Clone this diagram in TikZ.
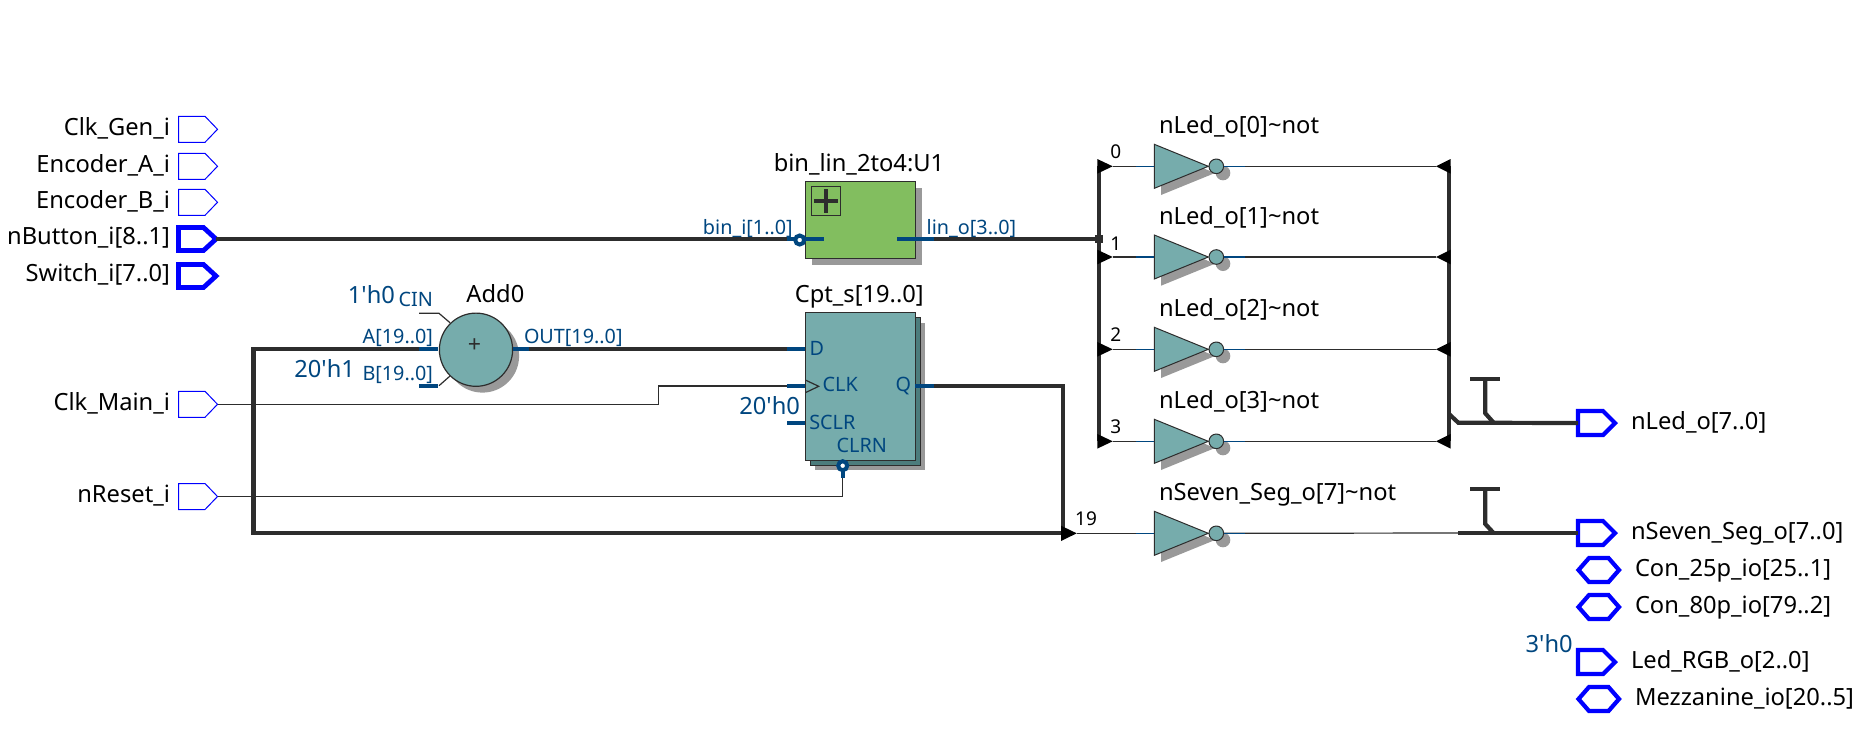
\documentclass[tikz,border=0pt]{standalone}
\usepackage{fontspec}
\setmainfont{Noto Sans}
\usepackage{xcolor}
\usetikzlibrary{calc}
\definecolor{wirek}{HTML}{2D2D2D}
\definecolor{pinblue}{HTML}{00467F}
\definecolor{portblue}{HTML}{0000FF}
\definecolor{tealfill}{HTML}{76ACAC}
\definecolor{tealdark}{HTML}{4C7C7C}
\definecolor{greenfill}{HTML}{82BE5F}
\definecolor{dropgray}{HTML}{999999}

\begin{document}
\begin{tikzpicture}[
    x=.5pt,y=-.5pt,
    every node/.style={inner sep=0pt,outer sep=0pt},
    wire/.style={line width=.6pt,wirek},
    bus/.style={line width=2.1pt,wirek},
    stub/.style={line width=2.1pt,pinblue},
    fine/.style={line width=.6pt,pinblue},
    pthin/.style={line width=.5pt,portblue},
    pthick/.style={line width=2.1pt,portblue},
    lab/.style={font=\fontsize{11.85}{13}\selectfont,text=black,yshift=-.5pt},
    pin/.style={font=\fontsize{9.9}{11}\selectfont,text=pinblue,yshift=-.5pt},
    const/.style={font=\fontsize{11.85}{13}\selectfont,text=pinblue,yshift=-.5pt},
    bit/.style={font=\fontsize{9.5}{11}\selectfont,text=black},
    block/.style={draw=wirek,line width=.6pt,minimum width=55pt},
    bub/.style={circle,draw=pinblue,line width=2pt,fill=white,minimum size=4.5pt},
  ]
  \useasboundingbox (0,0) rectangle (1858,752);

  % -- input ports --
  \foreach \k/\y/\t in {clkgen/129.3/{Clk\_Gen\_i},enca/166.3/{Encoder\_A\_i},encb/202.3/{Encoder\_B\_i},clkmain/404.3/{Clk\_Main\_i},nrst/496.5/{nReset\_i}}{%
    \draw[pthin] (178.5,\y-13) -- ++(26.5,0) -- ++(12.5,13) coordinate (P\k) -- ++(-12.5,13) -- ++(-26.5,0) -- cycle;
    \node[lab,anchor=base east] (T\k) at (170,\y+4.7) {\t};}
  \foreach \k/\y/\t in {btn/239/{nButton\_i[8..1]},sw/276/{Switch\_i[7..0]}}{%
    \draw[pthick,line width=2.4pt] (178.5,\y-11.5) -- ++(25,0) -- ++(12.5,11.5) coordinate (P\k) -- ++(-12.5,11.5) -- ++(-25,0) -- cycle;
    \node[lab,anchor=base east] (T\k) at (170,\y+4.7) {\t};}

  % -- output and bidirectional ports --
  \foreach \k/\y/\t in {led/423/{nLed\_o[7..0]},seg/533/{nSeven\_Seg\_o[7..0]},rgb/662/{Led\_RGB\_o[2..0]}}{%
    \draw[pthick] (1578,\y-12) -- ++(25,0) -- ++(12,12) -- ++(-12,12) -- ++(-25,0) -- cycle;
    \coordinate (P\k) at (1578,\y);
    \node[lab,anchor=base west] (T\k) at (1631,\y+5.5) {\t};}
  \foreach \k/\y/\t in {cona/570/{Con\_25p\_io[25..1]},conb/607/{Con\_80p\_io[79..2]},mez/699/{Mezzanine\_io[20..5]}}{%
    \draw[pthick] (1578.5,\y) -- (1589,\y-12) -- (1608.5,\y-12) -- (1619,\y) -- (1608.5,\y+12) -- (1589,\y+12) -- cycle;
    \node[lab,anchor=base west] (T\k) at (1635,\y+5.5) {\t};}
  \node[const,anchor=base east] (crgb) at (1572.7,651) {3\textquotesingle h0};

  % -- bin_lin block --
  \fill[dropgray] (812,188.4) rectangle (922,265);
  \node[block,fill=greenfill,minimum height=38.3pt] (binlin) at (860.3,220) {};
  \node[lab,anchor=base] (Tbinlin) at (859,170) {bin\_lin\_2to4:U1};
  \draw[line width=.6pt,wirek] (811.3,186.3) rectangle (840.7,215.3);
  \draw[line width=2.2pt,wirek] (814,200.7) -- (838,200.7);
  \draw[line width=2.2pt,wirek] (826,189) -- (826,212.5);
  \node[pin,anchor=base east] (Tbini) at (792.7,233.3) {bin\_i[1..0]};
  \node[pin,anchor=base west] (Tlino) at (926.7,233.3) {lin\_o[3..0]};

  % -- counter register --
  \fill[dropgray] (815.3,322.7) rectangle (925.3,470.3);
  \fill[tealdark] (810.3,317.7) rectangle (920.3,465.3);
  \draw[wirek,line width=.6pt] (810.3,317.7) rectangle (920.3,465.3);
  \node[block,fill=tealfill,minimum height=73.8pt] (cpt) at (860.3,386.5) {};
  \node[lab,anchor=base] (Tcpt) at (859.3,301.7) {Cpt\_s[19..0]};
  \draw[wire] (805.3,380) -- (818.7,386.3) -- (805.3,392.7);
  \node[pin,anchor=base west] (Dp) at (809.5,354) {D};
  \node[pin,anchor=base west] (Cp) at (822.7,390.7) {CLK};
  \node[pin,anchor=base west] (Sp) at (809.3,428.3) {SCLR};
  \node[pin,anchor=base west] (Rp) at (836.7,451) {CLRN};
  \node[pin,anchor=base east] (Qp) at (911,390.7) {Q};
  \node[const,anchor=base east] (csclr) at (800,413.3) {20\textquotesingle h0};

  % -- adder --
  \fill[dropgray] (482.5,356) circle[radius=36.6];
  \draw[wire] (419,313.3) -- (439,313.3) -- (450,322.7);
  \draw[wire] (439,385.7) -- (450,376);
  \node[circle,draw=wirek,line width=.6pt,fill=tealfill,minimum size=36.6pt] (add) at (476,349.7) {};
  \node[font=\fontsize{11.6}{13}\selectfont,text=wirek] (addp) at (474.5,346) {+};
  \node[lab,anchor=base] (Tadd) at (495.4,301.7) {Add0};
  \node[pin,anchor=base east] (Ain) at (433,342.7) {A[19..0]};
  \node[pin,anchor=base east] (Bin) at (433,379.3) {B[19..0]};
  \node[pin,anchor=base east] (Cin) at (433,305) {CIN};
  \node[pin,anchor=base west] (Oout) at (524,342.7) {OUT[19..0]};
  \node[const,anchor=base east] (ccin) at (395,302.7) {1\textquotesingle h0};
  \node[const,anchor=base east] (cb) at (355,376.7) {20\textquotesingle h1};

  % -- the nets --
  \coordinate (busl) at (1099,239);
  \draw[bus] (Pbtn) -- (787,239);
  \draw[bus] (934,239) -- (busl);
  \draw[bus] (529,349) -- (787,349);
  \draw[bus] (419,349) -- (253.5,349) -- (253.5,533) -- (1063,533);
  \draw[bus] (934,386) -- (1063,386) -- (1063,533);
  \draw[wire] (Pclkmain) -- (658.3,404.3) -- (658.3,386) -- (805.3,386);
  \draw[wire] (Pnrst) -- (842.7,496.5) -- (842.7,478);

  % -- pin stubs --
  \draw[stub] (787,239) -- (824,239);
  \draw[stub] (897,239) -- (934,239);
  \draw[stub] (419,349) -- (438,349);
  \draw[stub] (419,385.7) -- (438,385.7);
  \draw[stub] (513,349) -- (529,349);
  \draw[stub] (787,349) -- (805,349);
  \draw[stub] (787,386) -- (805,386);
  \draw[stub] (787,422.7) -- (805,422.7);
  \draw[stub] (915,386) -- (934,386);
  \draw[stub] (842.7,471) -- (842.7,478);
  \node[bub] (binb) at (799.7,240) {};
  \node[bub] (clrb) at (842.7,465.7) {};

  % -- the two buses round the inverters --
  \draw[line width=2.3pt,wirek] (1099,166) -- (1099,441);
  \draw[line width=2.3pt,wirek] (1449,166) -- (1449,441);
  \fill[wirek] (1095,235) rectangle (1103,243);

  % -- inverters --
  \foreach \i/\y/\t in {0/166.3/{nLed\_o[0]\textasciitilde not},1/257/{nLed\_o[1]\textasciitilde not},2/349.3/{nLed\_o[2]\textasciitilde not},3/441.3/{nLed\_o[3]\textasciitilde not},4/533.3/{nSeven\_Seg\_o[7]\textasciitilde not}}{%
    \begin{scope}[shift={(1154.3,\y)}]
      \fill[dropgray] (6.7,-15.3) -- (60.7,6.7) -- (6.7,28.7) -- cycle;
      \fill[dropgray] (68.7,6.7) circle[radius=7.3];
      \draw[wirek,line width=.5pt,fill=tealfill] (0,-22) -- (54,0) -- (0,22) -- cycle;
      \node[circle,draw=wirek,line width=.5pt,fill=tealfill,minimum size=7.3pt] (bub\i) at (62,0) {};
      \coordinate (gin\i) at (0,0);
      \coordinate (gstub\i) at (-18.3,0);
      \coordinate (ostub\i) at (90.7,0);
      \node[lab,anchor=base west] (Tg\i) at (4.7,-33.6) {\t};
    \end{scope}
    \coordinate (lt\i) at (1112.7,\y);}
  \foreach \i/\y/\t in {0/166.3/158.3,1/257/250.7,2/349.3/341.7,3/441.3/433.3}{%
    \fill (1097.3,\y-7.3) -- (1112.7,\y) -- (1097.3,\y+7.3) -- cycle;
    \fill (1450.7,\y-7.3) -- (1436,\y) -- (1450.7,\y+7.3) -- cycle;
    \coordinate (rt\i) at (1436,\y);
    \draw[wire] (lt\i) -- (gin\i);
    \draw[wire] (bub\i.east) -- (rt\i);
    \draw[fine] (gstub\i) -- (gin\i);
    \draw[fine] (bub\i.east) -- (ostub\i);
    \node[bit,anchor=base] (B\i) at (1115.7,\t) {\i};}
  \fill (1061,525.7) -- (1076.7,533.3) -- (1061,541) -- cycle;
  \coordinate (segend) at (1458.3,533);
  \draw[wire] (1076.7,533.3) -- (gin4);
  \draw[wire] (bub4.east) -- (segend);
  \draw[fine] (gstub4) -- (gin4);
  \draw[fine] (bub4.east) -- (ostub4);
  \node[bit,anchor=base] (B19) at (1086,525.7) {19};

  % -- ripped buses to the output ports --
  \draw[bus] (1449,414) -- (1458.3,422.7) -- (Pled);
  \draw[bus] (segend) -- (Pseg);
  \draw[bus] (1470,379) -- (1500,379);
  \draw[bus] (1485.3,379) -- (1485.3,413.3) -- (1493.3,422.3);
  \draw[bus] (1470,488.7) -- (1500,488.7);
  \draw[bus] (1485.3,488.7) -- (1485.3,524) -- (1493.3,532.7);
\end{tikzpicture}
\end{document}
